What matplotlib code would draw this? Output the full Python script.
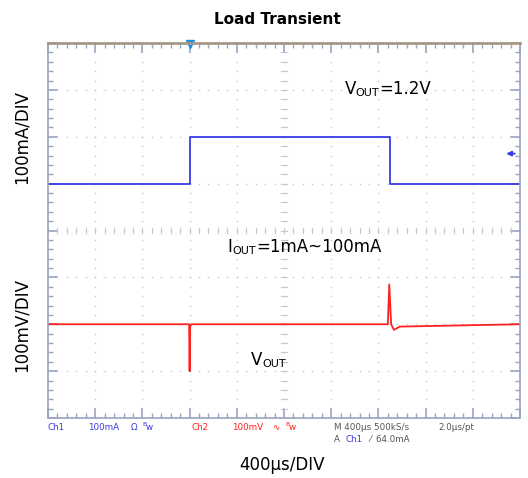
import numpy as np
import matplotlib
matplotlib.use("Agg")
import matplotlib.pyplot as plt

# scope traces, in screen divisions (x: 0..10, y: -4..4, centre line at 0)
ch1_t = [0.0, 3.0, 3.0, 7.25, 7.25, 10.0]
ch1_v = [1.0, 1.0, 2.0, 2.0, 1.0, 1.0]          # load current, 100mA/div
ch2_t = [0.0, 2.99, 3.0, 3.01, 3.04, 7.2, 7.23, 7.27, 7.33, 7.45, 10.0]
ch2_v = [-2.0, -2.0, -3.0, -2.05, -2.0, -2.0, -1.15, -2.0, -2.12, -2.05, -2.0]  # Vout, 100mV/div

BLUE, RED, FRAME, GRID = "#3a3ae8", "#ff2020", "#9aa3c0", "#c4c6d0"

fig = plt.figure(figsize=(5.28, 4.78), dpi=100)
ax = fig.add_axes([48 / 528, 1 - 418 / 478, 472 / 528, 375 / 478])
ax.set_xlim(0, 10)
ax.set_ylim(-4, 4)

# dotted graticule
for gx in range(1, 10):
    ys = np.arange(-4, 4.01, 0.2)
    ax.plot(np.full_like(ys, gx), ys, ls="none", marker="s", ms=1.0, color=GRID, mec="none")
for gy in range(-3, 4):
    xs = np.arange(0, 10.01, 0.2)
    ax.plot(xs, np.full_like(xs, gy), ls="none", marker="s", ms=1.0, color=GRID, mec="none")

# centre crosshair ticks
for t in np.arange(0, 10.01, 0.2):
    ax.plot([t, t], [-0.05, 0.05], color=GRID, lw=0.8)
for t in np.arange(-4, 4.01, 0.2):
    ax.plot([4.94, 5.06], [t, t], color=GRID, lw=0.8)

ax.plot(ch1_t, ch1_v, color=BLUE, lw=1.3)
ax.plot(ch2_t, ch2_v, color=RED, lw=1.3)

# trigger markers
ax.plot([3.0], [3.97], marker="v", color="#1e90e0", ms=6, clip_on=False)
ax.annotate("", xy=(9.65, 1.64), xytext=(9.95, 1.64),
            arrowprops=dict(arrowstyle="-|>", color=BLUE, lw=1.3, mutation_scale=7))

# frame and edge ticks
for s in ax.spines.values():
    s.set_color(FRAME)
    s.set_linewidth(1.2)
ax.spines["top"].set_color("#a89888")
ax.spines["top"].set_linewidth(2)
ax.set_xticks(range(11))
ax.set_yticks(range(-4, 5))
ax.set_xticks(np.arange(0, 10.01, 0.2), minor=True)
ax.set_yticks(np.arange(-4, 4.01, 0.2), minor=True)
ax.tick_params(which="both", direction="in", top=True, right=True, color=FRAME,
               labelbottom=False, labelleft=False)
ax.tick_params(which="major", length=7, width=1.2)
ax.tick_params(which="minor", length=3.5, width=1)


def pieces(x, y, parts, coords):
    prev = None
    for text, size in parts:
        if prev is None:
            prev = ax.text(x, y, text, fontsize=size, transform=coords, va="bottom")
        else:
            prev = ax.annotate(text, xy=(1, 0), xycoords=prev, fontsize=size, va="bottom")


pieces(6.28, 2.82, [("V", 12), ("OUT", 8), ("=1.2V", 12)], ax.transData)
pieces(3.8, -0.55, [("I", 12), ("OUT", 8), ("=1mA~100mA", 12)], ax.transData)
pieces(4.3, -2.95, [("V", 12), ("OUT", 8)], ax.transData)

# scope status line
sfs = 6.3
r1, r2 = 1 - 427 / 478, 1 - 439 / 478
GREY_TXT = "#555555"
fig.text(48 / 528, r1, "Ch1", color=BLUE, fontsize=sfs, va="center")
fig.text(88 / 528, r1, "100mA", color=BLUE, fontsize=sfs, va="center")
fig.text(131 / 528, r1, "\u03a9", color=BLUE, fontsize=sfs, va="center")
fig.text(142 / 528, r1, "B", color=BLUE, fontsize=4.5, va="bottom")
fig.text(146 / 528, r1, "w", color=BLUE, fontsize=sfs, va="center")
fig.text(192 / 528, r1, "Ch2", color=RED, fontsize=sfs, va="center")
fig.text(232 / 528, r1, "100mV", color=RED, fontsize=sfs, va="center")
fig.text(272 / 528, r1, "\u223f", color=RED, fontsize=sfs, va="center")
fig.text(285 / 528, r1, "B", color=RED, fontsize=4.5, va="bottom")
fig.text(289 / 528, r1, "w", color=RED, fontsize=sfs, va="center")
fig.text(334 / 528, r1, "M 400\u03bcs 500kS/s", color=GREY_TXT, fontsize=sfs, va="center")
fig.text(438 / 528, r1, "2.0\u03bcs/pt", color=GREY_TXT, fontsize=sfs, va="center")
fig.text(334 / 528, r2, "A", color=GREY_TXT, fontsize=sfs, va="center")
fig.text(345 / 528, r2, "Ch1", color=BLUE, fontsize=sfs, va="center")
fig.text(370 / 528, r2, "\u2044  64.0mA", color=GREY_TXT, fontsize=sfs, va="center")

fig.text(0.525, 1 - 20 / 478, "Load Transient", fontsize=11, fontweight="bold", ha="center", va="center")
fig.text(0.535, 1 - 465 / 478, "400\u03bcs/DIV", fontsize=12, ha="center", va="center")
fig.text(22 / 528, 1 - 137 / 478, "100mA/DIV", fontsize=12, rotation=90, ha="center", va="center")
fig.text(22 / 528, 1 - 325 / 478, "100mV/DIV", fontsize=12, rotation=90, ha="center", va="center")

fig.savefig("out.png", dpi=100)
